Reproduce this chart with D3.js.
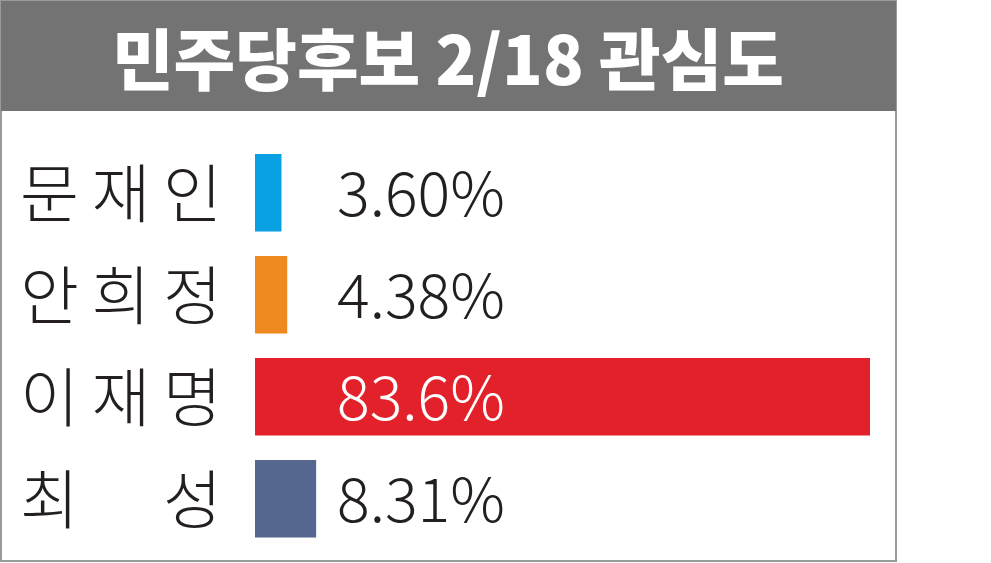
<!DOCTYPE html>
<html>
<head>
<meta charset="utf-8">
<script src="https://cdn.jsdelivr.net/npm/d3@7"></script>
<style>
  body { margin: 0; background: #fff; }
  text { font-family: "Noto Sans CJK KR", "Noto Sans", sans-serif; }
</style>
</head>
<body>
<div id="chart"></div>
<script>
const width = 991;
const height = 563;

const title = "민주당후보 2/18 관심도";
const names = ["문재인", "안희정", "이재명", "최성"];
const values = [3.6, 4.38, 83.6, 8.31];
const valueLabels = ["3.60%", "4.38%", "83.6%", "8.31%"];
const barColors = ["#0aa0e4", "#ee891f", "#e3212b", "#56678f"];
const labelColors = ["#231f20", "#231f20", "#ffffff", "#231f20"];

const data = names.map((name, i) => ({
  name: name,
  value: values[i],
  label: valueLabels[i],
  color: barColors[i],
  labelColor: labelColors[i],
}));

// SCALES
const xScale = d3.scaleLinear().domain([0, 83.6]).range([255, 870]);
const yScale = d3
  .scaleBand()
  .domain(names)
  .range([154, 537.5])
  .paddingInner(0.24);

// SVG
const svg = d3
  .select("#chart")
  .append("svg")
  .attr("width", width)
  .attr("height", height);

// FRAME + HEADER
svg
  .append("rect")
  .attr("x", 1)
  .attr("y", 1)
  .attr("width", 895)
  .attr("height", 560)
  .attr("fill", "#fff")
  .attr("stroke", "#9a9a9a")
  .attr("stroke-width", 2);

svg
  .append("rect")
  .attr("x", 1)
  .attr("y", 1)
  .attr("width", 895)
  .attr("height", 110)
  .attr("fill", "#737373");

svg
  .append("text")
  .text(title)
  .attr("x", 448)
  .attr("y", 85)
  .attr("text-anchor", "middle")
  .attr("fill", "#fff")
  .style("font-size", "67px")
  .style("font-weight", 900);

// BARS
svg
  .selectAll("rect.bar")
  .data(data)
  .enter()
  .append("rect")
  .attr("class", "bar")
  .attr("x", xScale(0))
  .attr("y", (d) => yScale(d.name))
  .attr("width", (d) => xScale(d.value) - xScale(0))
  .attr("height", yScale.bandwidth())
  .attr("fill", (d) => d.color);

// NAMES
svg
  .selectAll("text.name")
  .data(data)
  .enter()
  .append("text")
  .attr("class", "name")
  .text((d) => d.name)
  .attr("x", 20)
  .attr("y", (d) => yScale(d.name) + yScale.bandwidth() / 2 + 24)
  .attr("textLength", 202)
  .attr("lengthAdjust", "spacing")
  .attr("fill", "#231f20")
  .style("font-size", "64px")
  .style("font-weight", 300);

// VALUE LABELS
svg
  .selectAll("text.pct-label")
  .data(data)
  .enter()
  .append("text")
  .attr("class", "pct-label")
  .text((d) => d.label)
  .attr("x", 337)
  .attr("y", (d) => yScale(d.name) + yScale.bandwidth() / 2 + 23)
  .attr("fill", (d) => d.labelColor)
  .style("font-size", "61px")
  .style("font-weight", 300);
</script>
</body>
</html>
